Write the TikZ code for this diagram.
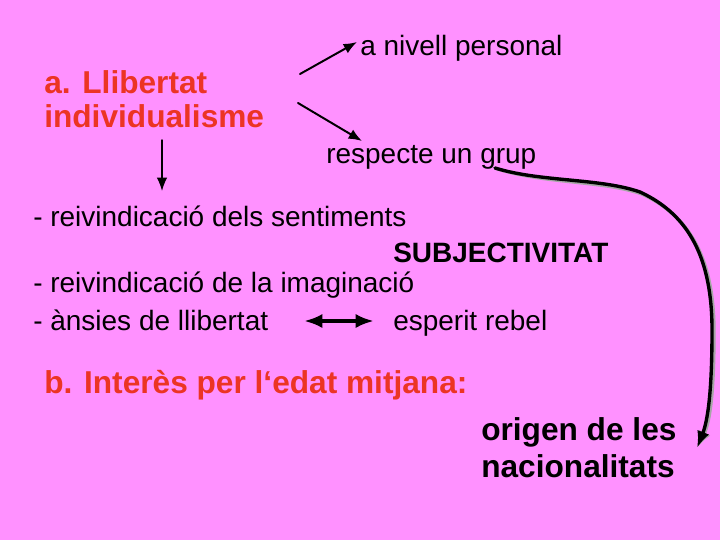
\documentclass[tikz,border=0pt]{standalone}
\usepackage{fontspec}
\setmainfont{Liberation Sans}
\usetikzlibrary{arrows.meta}
\definecolor{rosa}{RGB}{255,145,255}
\definecolor{vermell}{RGB}{236,52,36}
\begin{document}
\begin{tikzpicture}[x=0.025cm, y=-0.025cm, line join=round, line cap=round, >={Latex[length=9.5pt,width=7.5pt]},
	txt/.style={anchor=base west, inner sep=0pt, font=\fontsize{19.9}{24}\selectfont},
	negreta/.style={txt, font=\fontsize{22.5}{27}\selectfont\bfseries},
	titol/.style={negreta, text=vermell}]
	\fill[rosa] (0,0) rectangle (720,540);
	% textos
	\node[titol] (llib) at (44,93) {a. Llibertat};
	\node[titol] (indiv) at (44,127) {individualisme};
	\node[txt] (pers) at (360,55) {a nivell personal};
	\node[txt] (grup) at (326,163) {respecte un grup};
	\node[txt] (sent) at (33,226) {- reivindicació dels sentiments};
	\node[txt, font=\fontsize{19.9}{24}\selectfont\bfseries] (subj) at (393,262) {SUBJECTIVITAT};
	\node[txt] (imag) at (33,292) {- reivindicació de la imaginació};
	\node[txt] (ansies) at (33,330) {- ànsies de llibertat};
	\node[txt] (rebel) at (393,330) {esperit rebel};
	\node[titol] (edat) at (44,393) {b. Interès per l‘edat mitjana:};
	\node[negreta] (orig) at (481,440) {origen de les};
	\node[negreta] (nac) at (481,477) {nacionalitats};
	% fletxes
	\coordinate (a1) at (300,74); \coordinate (a2) at (357,42);
	\coordinate (b1) at (298,103); \coordinate (b2) at (362,141);
	\coordinate (c1) at (162,140); \coordinate (c2) at (162,191);
	\coordinate (d1) at (304,321); \coordinate (d2) at (374,321);
	\coordinate (e1) at (495,168); \coordinate (e2) at (697,448);
	\draw[->, line width=1.4pt] (a1) -- (a2);
	\draw[->, line width=1.4pt] (b1) -- (b2);
	\draw[->, line width=1pt] (c1) -- (c2);
	\draw[{Latex[length=13pt,width=10pt]}-{Latex[length=13pt,width=10pt]}, line width=2.6pt] (d1) -- (d2);
	\draw[-{Latex[length=12pt,width=9pt]}, line width=2.4pt, gray!70, shift={(2,2)}] (e1) .. controls (540,182) and (600,178) .. (640,192)
		.. controls (690,215) and (712,260) .. (712,330) .. controls (712,390) and (708,420) .. (e2);
	\draw[-{Latex[length=12pt,width=9pt]}, line width=2.4pt] (e1) .. controls (540,182) and (600,178) .. (640,192)
		.. controls (690,215) and (712,260) .. (712,330) .. controls (712,390) and (708,420) .. (e2);
\end{tikzpicture}
\end{document}
